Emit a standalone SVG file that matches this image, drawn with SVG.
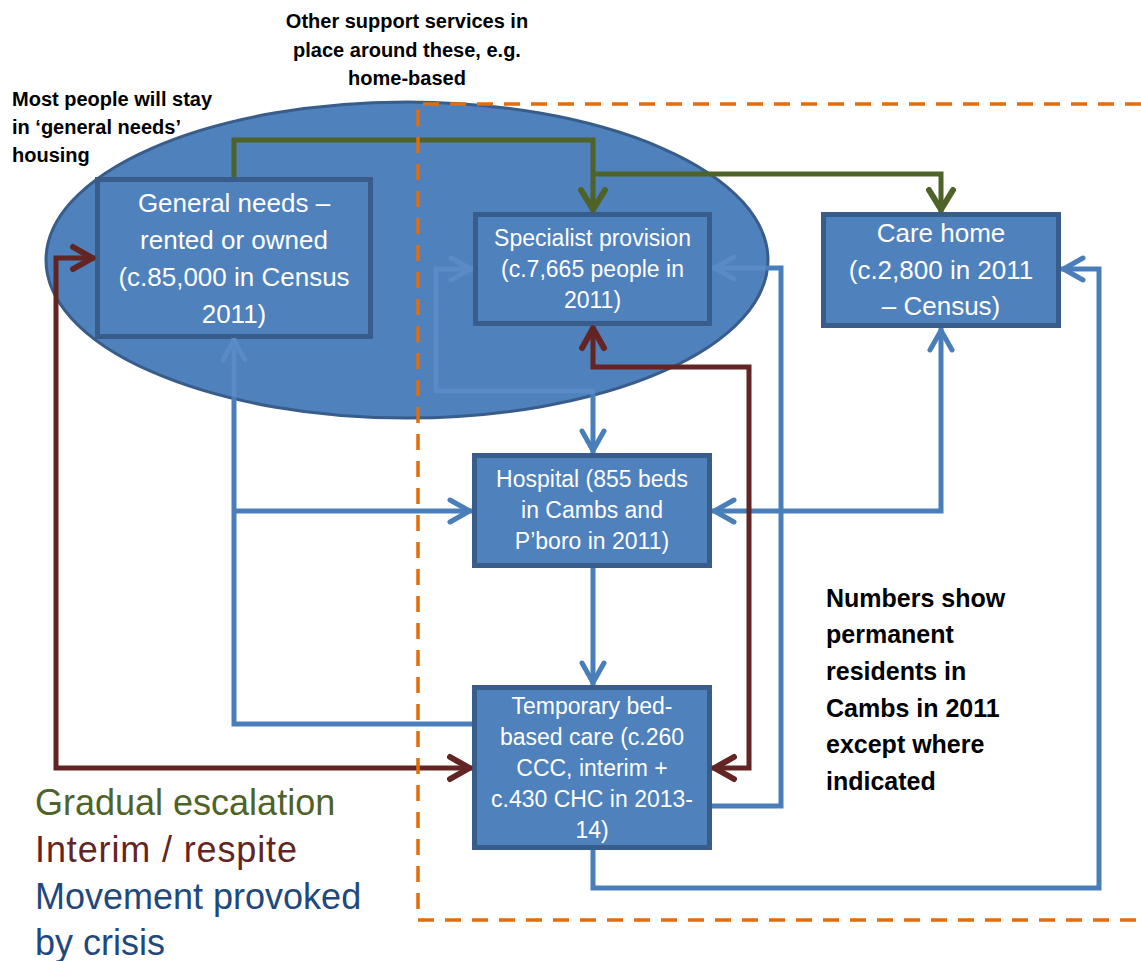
<svg xmlns="http://www.w3.org/2000/svg" width="1141" height="961" viewBox="0 0 1141 961">
<style>
.box{fill:#4F81BD;stroke:#385D8A;stroke-width:5}
.bt{font-family:"Liberation Sans",Arial,sans-serif;fill:#FFFFFF;text-anchor:middle}
.note{font-family:"Liberation Sans",Arial,sans-serif;font-weight:bold;fill:#000000;font-size:20px}
.leg{font-family:"Liberation Sans",Arial,sans-serif;font-size:36px}
.c{fill:none;stroke-width:5;stroke-linejoin:miter}
.blue{stroke:#4A7EBB}
.faint{stroke:#5A8BC7}
.brown{stroke:#632523}
.green{stroke:#4F6228}
</style>
<defs>
<marker id="mb" viewBox="-26 -15 30 30" refX="0" refY="0" markerWidth="30" markerHeight="30" orient="auto-start-reverse" markerUnits="userSpaceOnUse"><path d="M-22,-11 L-2.5,0 L-22,11" fill="none" stroke="#4A7EBB" stroke-width="5" stroke-linecap="round" stroke-linejoin="round"/></marker>
<marker id="mf" viewBox="-26 -15 30 30" refX="0" refY="0" markerWidth="30" markerHeight="30" orient="auto-start-reverse" markerUnits="userSpaceOnUse"><path d="M-22,-11 L-2.5,0 L-22,11" fill="none" stroke="#5A8BC7" stroke-width="5" stroke-linecap="round" stroke-linejoin="round"/></marker>
<marker id="mr" viewBox="-26 -15 30 30" refX="0" refY="0" markerWidth="30" markerHeight="30" orient="auto-start-reverse" markerUnits="userSpaceOnUse"><path d="M-22,-11 L-2.5,0 L-22,11" fill="none" stroke="#632523" stroke-width="6" stroke-linecap="round" stroke-linejoin="round"/></marker>
<marker id="mg" viewBox="-26 -15 30 30" refX="0" refY="0" markerWidth="30" markerHeight="30" orient="auto-start-reverse" markerUnits="userSpaceOnUse"><path d="M-22,-12 L-2.5,0 L-22,12" fill="none" stroke="#4F6228" stroke-width="6" stroke-linecap="round" stroke-linejoin="round"/></marker>
<clipPath id="ellClip"><ellipse cx="407" cy="260" rx="359" ry="156"/></clipPath>
</defs>
<rect x="0" y="0" width="1141" height="961" fill="#FFFFFF"/>

<g id="general-needs-area">
<ellipse cx="407" cy="260" rx="361" ry="158" fill="#4F81BD" stroke="#385D8A" stroke-width="3"/>
</g>

<g id="general-needs">
<rect class="box" x="97.5" y="179.5" width="273" height="157"/>
<text class="bt" font-size="26" x="234" y="212">General needs –</text>
<text class="bt" font-size="26" x="234" y="249">rented or owned</text>
<text class="bt" font-size="26" x="234" y="286">(c.85,000 in Census</text>
<text class="bt" font-size="26" x="234" y="323">2011)</text>
</g>

<g id="specialist">
<rect class="box" x="475.5" y="214.5" width="234" height="109"/>
<text class="bt" font-size="23" x="592.5" y="246">Specialist provision</text>
<text class="bt" font-size="23" x="592.5" y="277">(c.7,665 people in</text>
<text class="bt" font-size="23" x="592.5" y="308">2011)</text>
</g>

<g id="care-home">
<rect class="box" x="823.5" y="214.5" width="235" height="111"/>
<text class="bt" font-size="26" x="941" y="242">Care home</text>
<text class="bt" font-size="26" x="941" y="279">(c.2,800 in 2011</text>
<text class="bt" font-size="26" x="941" y="315">– Census)</text>
</g>

<g id="hospital">
<rect class="box" x="474.5" y="455.5" width="235" height="110"/>
<text class="bt" font-size="23" x="592" y="487">Hospital (855 beds</text>
<text class="bt" font-size="23" x="592" y="518">in Cambs and</text>
<text class="bt" font-size="23" x="592" y="549">P’boro in 2011)</text>
</g>

<g id="temporary">
<rect class="box" x="474.5" y="687.5" width="235" height="160"/>
<text class="bt" font-size="23" x="592" y="714">Temporary bed-</text>
<text class="bt" font-size="23" x="592" y="745">based care (c.260</text>
<text class="bt" font-size="23" x="592" y="776">CCC, interim +</text>
<text class="bt" font-size="23" x="592" y="807">c.430 CHC in 2013-</text>
<text class="bt" font-size="23" x="592" y="838">14)</text>
</g>

<g id="connectors">
<path class="c blue" d="M234,338 V724 H472" marker-start="url(#mb)"/>
<path class="c blue" d="M234,511 H472" marker-end="url(#mb)"/>
<path class="c blue" d="M473,269 H436 V391 H593 V453" marker-start="url(#mb)" marker-end="url(#mb)"/>
<path class="c blue" d="M712,268 H781 V806 H712"  marker-start="url(#mb)"/>
<path class="c blue" d="M712,511 H941 V328" marker-start="url(#mb)" marker-end="url(#mb)"/>
<path class="c blue" d="M593,568 V685" marker-end="url(#mb)"/>
<path class="c blue" d="M593,850 V888 H1099 V269 H1061" marker-end="url(#mb)"/>
<g clip-path="url(#ellClip)">
<path class="c faint" d="M234,338 V724 H472" marker-start="url(#mf)"/>
<path class="c faint" d="M473,269 H436 V391 H593 V453" marker-start="url(#mf)"/>
<path class="c faint" d="M712,268 H781 V806 H712" marker-start="url(#mf)"/>
</g>
<path class="c brown" d="M95,258 H56 V768 H472" marker-start="url(#mr)" marker-end="url(#mr)"/>
<path class="c brown" d="M593,326 V367 H749 V768 H712" marker-start="url(#mr)" marker-end="url(#mr)"/>
<path class="c green" d="M234,177 V140 H593 V212" marker-end="url(#mg)"/>
<path class="c green" d="M593,174 H941 V212" marker-end="url(#mg)"/>
</g>

<g id="boundary">
<path d="M1141,104 H418 V920 H1141" fill="none" stroke="#E46C0A" stroke-width="3.5" stroke-dasharray="16 11"/>
</g>

<g id="notes">
<text class="note" text-anchor="middle" x="407" y="28">Other support services in</text>
<text class="note" text-anchor="middle" x="407" y="57">place around these, e.g.</text>
<text class="note" text-anchor="middle" x="407" y="85">home-based</text>
<text class="note" x="12" y="106">Most people will stay</text>
<text class="note" x="12" y="134">in ‘general needs’</text>
<text class="note" x="12" y="162">housing</text>
<text class="note" x="826" y="607" style="font-size:25px">Numbers show</text>
<text class="note" x="826" y="643" style="font-size:25px">permanent</text>
<text class="note" x="826" y="680" style="font-size:25px">residents in</text>
<text class="note" x="826" y="717" style="font-size:25px">Cambs in 2011</text>
<text class="note" x="826" y="753" style="font-size:25px">except where</text>
<text class="note" x="826" y="790" style="font-size:25px">indicated</text>
</g>

<g id="legend">
<text class="leg" x="35" y="815" fill="#4F6228">Gradual escalation</text>
<text class="leg" x="35" y="862" fill="#632523" textLength="262" lengthAdjust="spacing">Interim / respite</text>
<text class="leg" x="35" y="909" fill="#1F497D">Movement provoked</text>
<text class="leg" x="35" y="955" fill="#1F497D">by crisis</text>
</g>
</svg>
